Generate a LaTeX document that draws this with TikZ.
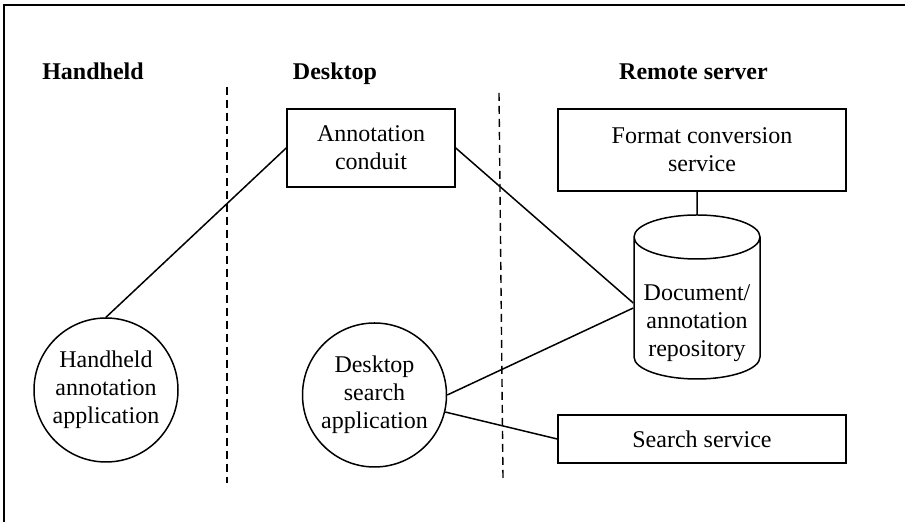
\documentclass[tikz,border=0pt]{standalone}
\usepackage{fontspec}
\setmainfont{Liberation Serif}
\usetikzlibrary{shapes.geometric}
\usetikzlibrary{positioning}
\tikzset{x=0.5pt, y=-0.5pt, % One unit is one pixel, y runs downwards
every node/.style={ % Sets the font for all labels
font=\fontsize{12}{14}\selectfont},
heading/.style={ % Column titles
font=\fontsize{12}{14}\selectfont\bfseries,
anchor=base},
component/.style={ % Sets the properties for each box
draw,
line width=0.75pt,
align=center},
app/.style={ % Applications are drawn as circles
draw,
circle,
line width=0.75pt,
inner sep=1pt,
minimum size=72pt,
align=center},
store/.style={ % The repository cylinder, its text is set separately
draw,
cylinder,
shape border rotate=90,
aspect=0.4,
line width=0.75pt,
inner sep=1pt,
minimum width=63pt,
minimum height=82pt,
anchor=shape center},
divider/.style={ % Dashed lines between the columns
line width=0.7pt,
dash pattern=on 4pt off 2.5pt},
link/.style={ % Plain connections
line width=0.75pt}}

\begin{document}
\begin{tikzpicture}
                \useasboundingbox (0,0) rectangle (905,522);
                \draw[line width=1pt] (4,522) -- (4,5) -- (905,5);

                \node[heading] (hhhead) at (93,80) {Handheld};
                \node[heading] (dthead) at (335,80) {Desktop};
                \node[heading] (rshead) at (693.5,80) {Remote server};

                \draw[divider] (227,87) -- (227,483);
                \draw[divider] (499,93) -- (503,478);

                \node[component, minimum width=84pt, minimum height=39pt] (conduit) at (371,148) {Annotation\\conduit};
                \node[component, minimum width=144pt, minimum height=41pt] (format) at (702,150) {Format conversion\\service};
                \node[store] (repo) at (697,297) {\phantom{\rule{53pt}{36pt}}};
                \node[align=center] (repotext) at (697,323.5) {Document/\\annotation\\repository};
                \node[component, minimum width=144pt, minimum height=24pt] (search) at (702,439) {Search service};
                \node[app] (hh) at (106,390) {Handheld\\annotation\\application};
                \node[app] (ds) at (374.5,395) {Desktop\\search\\application};

                \path (repo.shape center -| repo.west) coordinate (repoleft);

                \draw[link] (conduit.west) -- (hh.north)
                (conduit.east) -- ([yshift=-3pt]repoleft)
                (ds.east) -- ([yshift=-5.5pt]repoleft)
                (ds) -- (search.west)
                (repo.north |- format.south) -- (repo.north);

\end{tikzpicture}
\end{document}
